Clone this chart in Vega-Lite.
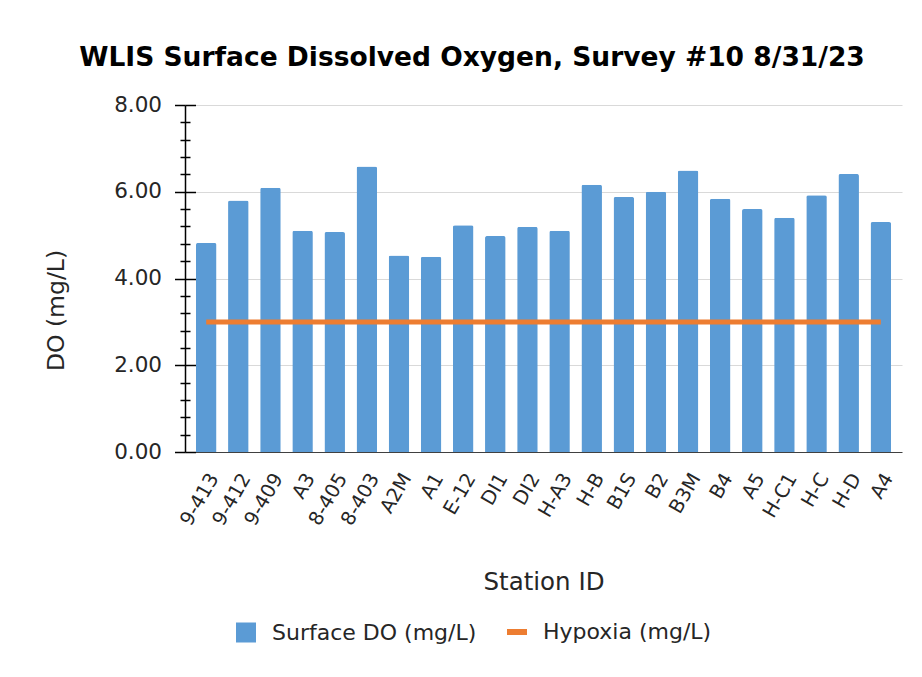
{
  "$schema": "https://vega.github.io/schema/vega-lite/v6.json",
  "width": 717,
  "height": 347,
  "autosize": "none",
  "padding": {"left": 185, "top": 105, "right": 20, "bottom": 225},
  "background": "white",
  "title": {
    "text": "WLIS Surface Dissolved Oxygen, Survey #10 8/31/23",
    "font": "DejaVu Sans",
    "fontSize": 26.5,
    "fontWeight": "bold",
    "color": "#000000",
    "anchor": "middle",
    "frame": "group",
    "dx": -71.5,
    "baseline": "alphabetic",
    "offset": 2
  },
  "config": {"view": {"stroke": null}, "font": "DejaVu Sans"},
  "data": {
    "values": [
      {"station": "9-413", "do": 4.82, "hypoxia": 3},
      {"station": "9-412", "do": 5.80, "hypoxia": 3},
      {"station": "9-409", "do": 6.09, "hypoxia": 3},
      {"station": "A3", "do": 5.10, "hypoxia": 3},
      {"station": "8-405", "do": 5.07, "hypoxia": 3},
      {"station": "8-403", "do": 6.58, "hypoxia": 3},
      {"station": "A2M", "do": 4.53, "hypoxia": 3},
      {"station": "A1", "do": 4.50, "hypoxia": 3},
      {"station": "E-12", "do": 5.23, "hypoxia": 3},
      {"station": "DI1", "do": 4.98, "hypoxia": 3},
      {"station": "DI2", "do": 5.19, "hypoxia": 3},
      {"station": "H-A3", "do": 5.10, "hypoxia": 3},
      {"station": "H-B", "do": 6.16, "hypoxia": 3},
      {"station": "B1S", "do": 5.88, "hypoxia": 3},
      {"station": "B2", "do": 6.00, "hypoxia": 3},
      {"station": "B3M", "do": 6.49, "hypoxia": 3},
      {"station": "B4", "do": 5.84, "hypoxia": 3},
      {"station": "A5", "do": 5.60, "hypoxia": 3},
      {"station": "H-C1", "do": 5.40, "hypoxia": 3},
      {"station": "H-C", "do": 5.92, "hypoxia": 3},
      {"station": "H-D", "do": 6.41, "hypoxia": 3},
      {"station": "A4", "do": 5.30, "hypoxia": 3}
    ]
  },
  "layer": [
    {
      "mark": {"type": "bar", "cornerRadiusTopLeft": 2, "cornerRadiusTopRight": 2},
      "encoding": {
        "x": {
          "field": "station",
          "type": "nominal",
          "sort": null,
          "scale": {"paddingInner": 0.36, "paddingOuter": 0.34},
          "axis": {
            "title": "Station ID",
            "titleFont": "DejaVu Sans",
            "titleFontSize": 24.5,
            "titleFontWeight": "normal",
            "titleColor": "#262626",
            "titleY": 130,
            "titleBaseline": "middle",
            "labelAngle": -60,
            "labelAlign": "right",
            "labelBaseline": "top",
            "labelPadding": 18,
            "labelFontSize": 19.5,
            "labelColor": "#262626",
            "labelOverlap": false,
            "ticks": false,
            "domainColor": "#404040",
            "domainWidth": 1.2,
            "grid": false
          }
        },
        "y": {
          "field": "do",
          "type": "quantitative",
          "scale": {"domain": [0, 8], "nice": false},
          "axis": {
            "orient": "left",
            "values": [0, 0.4, 0.8, 1.2, 1.6, 2, 2.4, 2.8, 3.2, 3.6, 4, 4.4, 4.8, 5.2, 5.6, 6, 6.4, 6.8, 7.2, 7.6, 8],
            "labelExpr": "datum.value % 2 === 0 ? format(datum.value, '.2f') : ''",
            "labelOverlap": false,
            "labelFontSize": 21.5,
            "labelColor": "#262626",
            "labelPadding": 13,
            "tickSize": {"condition": {"test": "datum.value % 2 === 0", "value": 10.5}, "value": 5},
            "tickColor": "#000000",
            "tickWidth": 1.5,
            "domainColor": "#000000",
            "domainWidth": 1.5,
            "grid": true,
            "gridColor": "#D9D9D9",
            "gridWidth": 1.2,
            "gridOpacity": {"condition": {"test": "datum.value % 2 === 0 && datum.value > 0", "value": 1}, "value": 0},
            "title": "DO (mg/L)",
            "titleFont": "DejaVu Sans",
            "titleFontSize": 23.5,
            "titleFontWeight": "normal",
            "titleColor": "#262626",
            "titleX": -129,
            "titleY": 205,
            "titleBaseline": "middle"
          }
        },
        "color": {
          "datum": "Surface DO (mg/L)",
          "type": "nominal",
          "scale": {"domain": ["Surface DO (mg/L)", "Hypoxia (mg/L)"], "range": ["#5B9BD5", "#ED7D31"]},
          "legend": {
            "orient": "none",
            "legendX": 50,
            "legendY": 516,
            "direction": "horizontal",
            "title": null,
            "labelFont": "DejaVu Sans",
            "labelFontSize": 22,
            "labelColor": "#262626",
            "labelLimit": 400,
            "symbolSize": 400,
            "labelOffset": 15,
            "columnPadding": 18,
            "padding": 0,
            "encode": {
              "symbols": {
                "update": {
                  "shape": {"signal": "datum.value === 'Hypoxia (mg/L)' ? 'stroke' : 'square'"},
                  "fill": {"signal": "datum.value === 'Hypoxia (mg/L)' ? 'transparent' : '#5B9BD5'"},
                  "stroke": {"signal": "datum.value === 'Hypoxia (mg/L)' ? '#ED7D31' : 'transparent'"},
                  "strokeWidth": {"signal": "datum.value === 'Hypoxia (mg/L)' ? 6 : 0"},
                  "opacity": {"value": 1},
                  "fillOpacity": {"value": 1},
                  "strokeOpacity": {"value": 1}
                }
              }
            }
          }
        }
      }
    },
    {
      "mark": {"type": "line", "strokeWidth": 5},
      "encoding": {
        "x": {"field": "station", "type": "nominal", "sort": null},
        "y": {
          "field": "hypoxia",
          "type": "quantitative",
          "axis": {
            "orient": "left",
            "values": [0, 0.4, 0.8, 1.2, 1.6, 2, 2.4, 2.8, 3.2, 3.6, 4, 4.4, 4.8, 5.2, 5.6, 6, 6.4, 6.8, 7.2, 7.6, 8],
            "labels": false,
            "domain": false,
            "grid": false,
            "title": null,
            "tickSize": {"condition": {"test": "datum.value % 2 === 0", "value": -10.5}, "value": -5},
            "tickColor": "#000000",
            "tickWidth": 1.5
          }
        },
        "color": {"datum": "Hypoxia (mg/L)", "type": "nominal"}
      }
    }
  ],
  "resolve": {"axis": {"y": "independent"}}
}
